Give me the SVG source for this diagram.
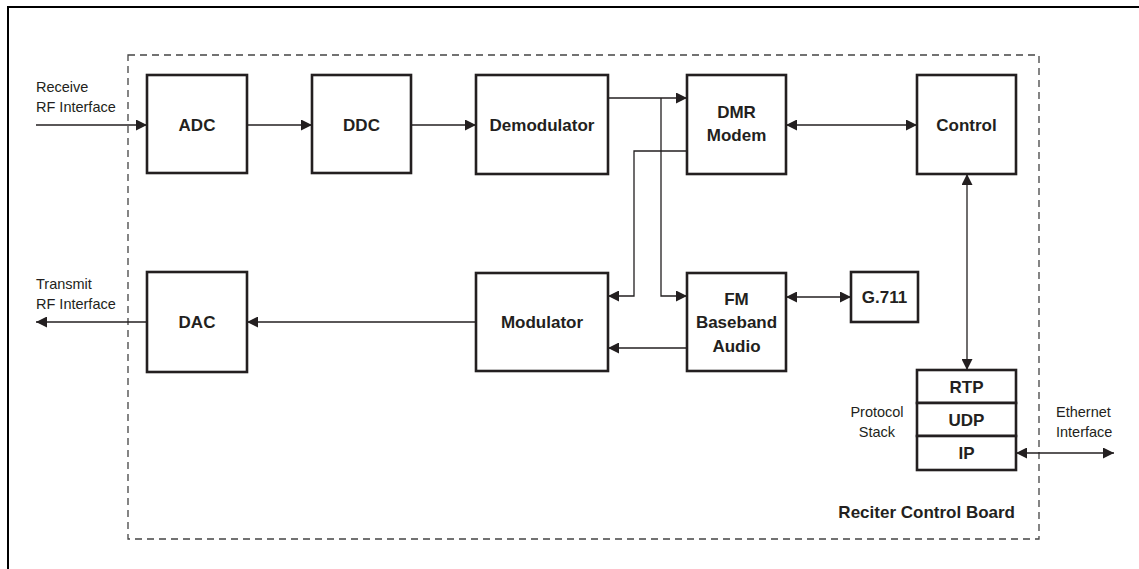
<svg xmlns="http://www.w3.org/2000/svg" width="1139" height="569" viewBox="0 0 1139 569">
<style>
.box{fill:#fff;stroke:#231f20;stroke-width:2.6}
.lbl{font-family:"Liberation Sans",Arial,sans-serif;font-weight:bold;font-size:17px;fill:#231f20;text-anchor:middle}
.note{font-family:"Liberation Sans",Arial,sans-serif;font-size:14.5px;fill:#231f20}
.con{fill:none;stroke:#231f20;stroke-width:1.3}
</style>
<defs>
<marker id="ah" viewBox="0 0 10 10" refX="10" refY="5" markerWidth="11" markerHeight="11" markerUnits="userSpaceOnUse" orient="auto-start-reverse">
<path d="M0,0 L10,5 L0,10 z" fill="#231f20"/>
</marker>
</defs>
<rect x="0" y="0" width="1139" height="569" fill="#fff"/>
<rect x="8" y="7" width="1145" height="580" fill="none" stroke="#000" stroke-width="2"/>
<rect id="board" x="128" y="55" width="911" height="484" fill="none" stroke="#444" stroke-width="1.3" stroke-dasharray="7,5"/>
<g id="connectors">
<path class="con" d="M36,125 H147" marker-end="url(#ah)"/>
<path class="con" d="M247,125 H312" marker-end="url(#ah)"/>
<path class="con" d="M411,125 H476" marker-end="url(#ah)"/>
<path class="con" d="M608,98 H687" marker-end="url(#ah)"/>
<path class="con" d="M661,98 V296 H687" marker-end="url(#ah)"/>
<path class="con" d="M687,151 H634 V296 H608" marker-end="url(#ah)"/>
<path class="con" d="M786,125 H917" marker-start="url(#ah)" marker-end="url(#ah)"/>
<path class="con" d="M786,297 H851" marker-start="url(#ah)" marker-end="url(#ah)"/>
<path class="con" d="M687,348 H608" marker-end="url(#ah)"/>
<path class="con" d="M476,322 H247" marker-end="url(#ah)"/>
<path class="con" d="M147,322 H36" marker-end="url(#ah)"/>
<path class="con" d="M967,174 V370" marker-start="url(#ah)" marker-end="url(#ah)"/>
<path class="con" d="M1016,453 H1114" marker-start="url(#ah)" marker-end="url(#ah)"/>
</g>
<g id="adc"><rect class="box" x="147" y="75" width="100" height="98"/><text class="lbl" x="197" y="131">ADC</text></g>
<g id="ddc"><rect class="box" x="312" y="75" width="99" height="98"/><text class="lbl" x="361.5" y="131">DDC</text></g>
<g id="demodulator"><rect class="box" x="476" y="75" width="132" height="99"/><text class="lbl" x="542" y="131">Demodulator</text></g>
<g id="dmr-modem"><rect class="box" x="687" y="75" width="99" height="99"/><text class="lbl" x="736.5" y="118">DMR</text><text class="lbl" x="736.5" y="141">Modem</text></g>
<g id="control"><rect class="box" x="917" y="75" width="99" height="99"/><text class="lbl" x="966.5" y="131">Control</text></g>
<g id="dac"><rect class="box" x="147" y="272" width="100" height="100"/><text class="lbl" x="197" y="328">DAC</text></g>
<g id="modulator"><rect class="box" x="476" y="273" width="132" height="98"/><text class="lbl" x="542" y="328">Modulator</text></g>
<g id="fm-baseband-audio"><rect class="box" x="687" y="273" width="99" height="98"/><text class="lbl" x="736.5" y="305">FM</text><text class="lbl" x="736.5" y="328">Baseband</text><text class="lbl" x="736.5" y="352">Audio</text></g>
<g id="g711"><rect class="box" x="851" y="272" width="67" height="50"/><text class="lbl" x="884.5" y="303">G.711</text></g>
<g id="rtp"><rect class="box" x="917" y="370" width="99" height="33"/><text class="lbl" x="966.5" y="393">RTP</text></g>
<g id="udp"><rect class="box" x="917" y="403" width="99" height="33"/><text class="lbl" x="966.5" y="426">UDP</text></g>
<g id="ip"><rect class="box" x="917" y="436" width="99" height="34"/><text class="lbl" x="966.5" y="459">IP</text></g>
<g id="labels">
<text class="note" x="36" y="92">Receive</text>
<text class="note" x="36" y="112">RF Interface</text>
<text class="note" x="36" y="289">Transmit</text>
<text class="note" x="36" y="309">RF Interface</text>
<text class="note" x="877" y="417" style="text-anchor:middle">Protocol</text>
<text class="note" x="877" y="437" style="text-anchor:middle">Stack</text>
<text class="note" x="1056" y="417">Ethernet</text>
<text class="note" x="1056" y="437">Interface</text>
<text class="lbl" x="1015" y="518" style="text-anchor:end">Reciter Control Board</text>
</g>
</svg>
